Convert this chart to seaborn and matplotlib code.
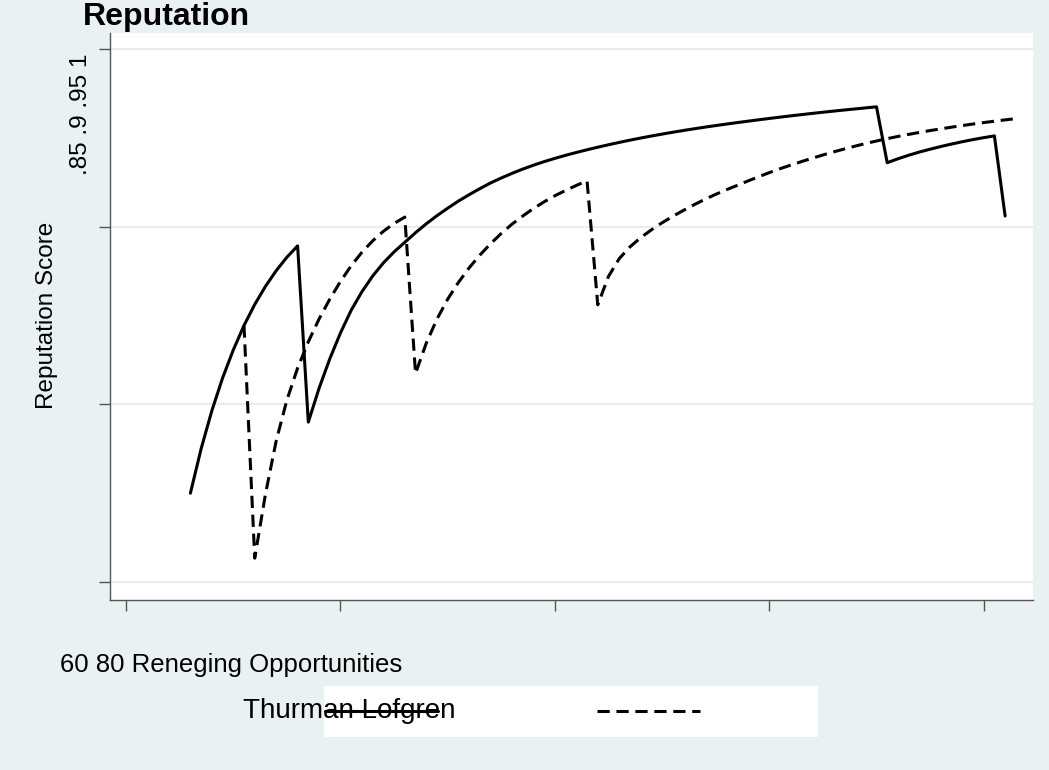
import matplotlib
matplotlib.use("Agg")
import matplotlib.pyplot as plt
import seaborn as sns
import pandas as pd
from matplotlib.lines import Line2D
from matplotlib.patches import Rectangle

# ---------------- data ----------------
solid_x = list(range(6, 83))
solid_y = [0.8750, 0.8875, 0.8982, 0.9074, 0.9153, 0.9222, 0.9281, 0.9332, 0.9376, 0.9414,
           0.9446, 0.8950, 0.9045, 0.9128, 0.9201, 0.9265, 0.9317, 0.9361, 0.9398, 0.9429,
           0.9456, 0.9483, 0.9508, 0.9531, 0.9552, 0.9572, 0.9590, 0.9607, 0.9623, 0.9637,
           0.9650, 0.9662, 0.9673, 0.9683, 0.96922, 0.97008, 0.97088, 0.97164, 0.97236, 0.97305,
           0.97371, 0.97434, 0.97494, 0.97551, 0.97605, 0.97657, 0.97707, 0.97755, 0.97801, 0.97845,
           0.97887, 0.97928, 0.97968, 0.98007, 0.98045, 0.98082, 0.98118, 0.98153, 0.98187, 0.98220,
           0.98252, 0.98283, 0.98313, 0.98343, 0.98373, 0.9680, 0.9691, 0.9701, 0.9710, 0.9718,
           0.97255, 0.97325, 0.9739, 0.9745, 0.97505, 0.97555, 0.9530]

dashed_x = list(range(11, 84))
dashed_y = [0.9222, 0.8567, 0.8747, 0.8897, 0.9012, 0.9102, 0.9176, 0.9240, 0.9296, 0.9346,
            0.9390, 0.9428, 0.9460, 0.9487, 0.9509, 0.9527, 0.9087, 0.9172, 0.9240, 0.9296,
            0.9343, 0.9384, 0.9420, 0.9452, 0.9481, 0.9507, 0.9530, 0.9551, 0.9570, 0.9587,
            0.9602, 0.9616, 0.9629, 0.9280, 0.9360, 0.9410, 0.9443, 0.9469, 0.9491, 0.9511,
            0.9529, 0.9546, 0.9562, 0.9577, 0.9591, 0.9604, 0.9616, 0.96285, 0.96405, 0.9652,
            0.9663, 0.96732, 0.96831, 0.96926, 0.97017, 0.97104, 0.97187, 0.97266, 0.97341, 0.97411,
            0.97477, 0.97539, 0.97597, 0.97652, 0.97704, 0.97753, 0.97800, 0.97845, 0.97888, 0.97929,
            0.97968, 0.98005, 0.98040]

x_ticks = [0, 20, 40, 60, 80]
y_ticks = [0.85, 0.90, 0.95, 1.0]
title = "Reputation"
y_label = "Reputation Score"
y_tick_text = ".85 .9 .95 1"
x_label_text = "60 80 Reneging Opportunities"
legend_text = "Thurman Lofgren"

# ---------------- styling ----------------
sns.set_style("white")
plt.rcParams["font.family"] = ["Liberation Sans", "DejaVu Sans"]

BG = "#EAF1F3"
W, H = 1049, 770
LW = 2.2
DASH = (0, (4.0, 2.2))

fig = plt.figure(figsize=(W / 100, H / 100), dpi=100)
fig.patch.set_facecolor(BG)

L, R, T, B = 110, 1033, 33, 600
ax = fig.add_axes([L / W, 1 - B / H, (R - L) / W, (B - T) / H])
ax.set_facecolor("white")

sns.lineplot(x=solid_x, y=solid_y, ax=ax, color="black", linewidth=LW)
sns.lineplot(x=dashed_x, y=dashed_y, ax=ax, color="black", linewidth=LW,
             linestyle=DASH)

ax.set_xlim(-1.5, 84.6)
ax.set_ylim(0.84494, 1.0045)
ax.set_xticks(x_ticks)
ax.set_xticklabels([])
ax.set_yticks(y_ticks)
ax.set_yticklabels([])
ax.set_xlabel("")
ax.set_ylabel("")
ax.grid(axis="y", color="#E8E8E8", linewidth=1.2)
ax.grid(axis="x", visible=False)
for s in ["top", "right"]:
    ax.spines[s].set_visible(False)
for s in ["left", "bottom"]:
    ax.spines[s].set_color("#555555")
    ax.spines[s].set_linewidth(1.0)
ax.tick_params(axis="both", direction="out", length=8, width=1.0, color="#555555",
               left=True, bottom=True)

def fx(px):
    return px / W

def fy(py):
    return 1 - py / H

# title
fig.text(fx(83), fy(25), title, ha="left", va="baseline", fontsize=23,
         fontweight="bold", color="black")
# y label and collapsed tick labels
fig.text(fx(47), fy(315), y_label, ha="center", va="center", rotation=90,
         fontsize=17.5, color="black")
fig.text(fx(81), fy(114), y_tick_text, ha="center", va="center", rotation=90,
         fontsize=17.5, color="black")
# x label with collapsed tick labels
fig.text(fx(60), fy(665), x_label_text, ha="left", va="center", fontsize=18.5,
         color="black")

# legend box
fig.add_artist(Rectangle((fx(324), fy(737)), fx(818) - fx(324), fy(686) - fy(737),
                         transform=fig.transFigure, facecolor="white",
                         edgecolor="none", zorder=1))
fig.text(fx(243), fy(711), legend_text, ha="left", va="center", fontsize=20,
         color="black", zorder=2)
fig.add_artist(Line2D([fx(325), fx(438)], [fy(711), fy(711)],
                      transform=fig.transFigure, color="black", linewidth=LW,
                      zorder=3))
fig.add_artist(Line2D([fx(597), fx(700)], [fy(711), fy(711)],
                      transform=fig.transFigure, color="black", linewidth=LW,
                      linestyle=DASH, zorder=3))

fig.savefig("out.png", dpi=100, facecolor=BG)
